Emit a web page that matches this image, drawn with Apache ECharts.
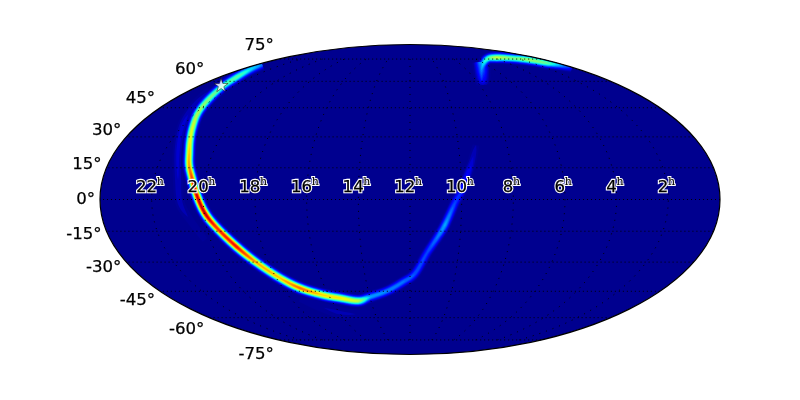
<!doctype html>
<html><head><meta charset="utf-8">
<style>html,body{margin:0;padding:0;background:#fff}#c{width:800px;height:400px}</style>
<script src="https://cdn.jsdelivr.net/npm/echarts@6/dist/echarts.min.js"></script>
</head><body><div id="c"></div>
<script>
// Sky tracks: right ascension (hours), declination (degrees), peak probability (0..1)
var mainRA  = [23.66,23.44,22.93,22.58,22.20,21.89,21.52,21.22,20.96,20.77,20.54,20.26,19.97,19.60,19.04,18.49,17.84,17.19,16.28,15.51,14.66,13.99,13.10,12.32,11.78,11.30,10.92,10.63,10.26,9.98,9.72,9.53,9.27];
var mainDec = [71.0,68.2,62.7,56.6,49.2,42.2,35.0,28.5,22.1,16.3,10.6,2.1,-6.4,-13.5,-22.6,-30.4,-38.0,-43.3,-47.0,-48.7,-50.2,-48.1,-44.9,-40.1,-35.7,-25.5,-18.2,-12.0,-1.6,4.5,12.5,17.8,26.0];
var mainP   = [.25,.35,.47,.47,.52,.57,.62,.66,.72,.76,.85,.95,.97,.88,.92,.75,.72,.82,.7,.68,.6,.3,.27,.25,.22,.2,.25,.3,.2,.17,.12,.08,.04];
var topRA   = [7.73,6.74,4.94,3.66,2.33,1.34,0.81,0.32,0.15];
var topDec  = [59.6,68.6,75.0,76.1,75.6,74.3,72.1,70.6,68.6];
var topP    = [.12,.3,.45,.6,.5,.55,.48,.3,.12];
var blobRA  = [6.05,7.10,7.81];
var blobDec = [72.7,65.9,57.8];
var blobP   = [.3,.22,.07];
var leftGhostRA  = [22.94,22.51,22.02,21.47,21.05,20.90,20.59,20.22];
var leftGhostDec = [54.8,46.5,35.9,23.5,9.2,-1.65,-9.65,-19.2];
var leftGhostP   = [.04,.06,.08,.08,.07,.06,.04,.03];
var lowGhostRA   = [17.51,16.11,14.32];
var lowGhostDec  = [-48.7,-56.6,-58.4];
var lowGhostP    = [.03,.05,.04];
var starRA = 22.85, starDec = 57.8;
var raTicks  = [22,20,18,16,14,12,10,8,6,4,2];
var decTicks = [75,60,45,30,15,0,-15,-30,-45,-60,-75];

// Mollweide projection onto a plane spanning -1..1 on both axes
function theta(dec){
  var phi=dec*Math.PI/180,t=phi;
  if(Math.abs(dec)>=90) return phi;
  for(var i=0;i<40;i++){t-=(2*t+Math.sin(2*t)-Math.PI*Math.sin(phi))/(2+2*Math.cos(2*t));}
  return t;
}
function proj(ra,dec){var t=theta(dec);return [(12-ra)/12*Math.cos(t),Math.sin(t)];}

function jet(v){
  function c(a){return Math.round(255*Math.max(0,Math.min(1,a)));}
  var r=v<.35?0:v<.66?(v-.35)/.31:v<.89?1:1-(v-.89)/.11*.5;
  var g=v<.125?0:v<.375?(v-.125)/.25:v<.64?1:v<.91?1-(v-.64)/.27:0;
  var b=v<.11?.5+v/.11*.5:v<.34?1:v<.65?1-(v-.34)/.31:0;
  return 'rgb('+c(r)+','+c(g)+','+c(b)+')';
}
var tracks=[
  {ra:leftGhostRA,dec:leftGhostDec,p:leftGhostP,s:3.2},
  {ra:lowGhostRA,dec:lowGhostDec,p:lowGhostP,s:4},
  {ra:blobRA,dec:blobDec,p:blobP,s:4},
  {ra:mainRA,dec:mainDec,p:mainP,s:2.7},
  {ra:topRA,dec:topDec,p:topP,s:2.6}
];
var items=[];
for(var l=.02;l<1;l+=.025){for(var t=0;t<tracks.length;t++){if(Math.max.apply(null,tracks[t].p)>l) items.push([t,+l.toFixed(3)]);}}

function cr(a,b,c,d,u){return .5*((2*b)+(c-a)*u+(2*a-5*b+4*c-d)*u*u+(3*b-a-3*c+d)*u*u*u);}
function bandItem(params,api){
  var tr=tracks[api.value(0)],lev=api.value(1),pts=[];
  var n=tr.ra.length,P=[];
  for(var i=0;i<n;i++){var q=api.coord(proj(tr.ra[i],tr.dec[i]));P.push([q[0],q[1],tr.p[i]]);}
  for(i=0;i<n-1;i++){
    var a=P[Math.max(0,i-1)],b=P[i],c=P[i+1],d=P[Math.min(n-1,i+2)];
    for(var k=0;k<6;k++){var u=k/6;pts.push([cr(a[0],b[0],c[0],d[0],u),cr(a[1],b[1],c[1],d[1],u),b[2]+(c[2]-b[2])*u]);}
  }
  pts.push(P[n-1]);
  var L=[],R=[];
  for(i=0;i<pts.length;i++){
    var p0=pts[Math.max(0,i-1)],p1=pts[Math.min(pts.length-1,i+1)];
    var dx=p1[0]-p0[0],dy=p1[1]-p0[1],m=Math.hypot(dx,dy)||1;
    var I=pts[i][2],w=I>lev?tr.s*Math.sqrt(2*Math.log(I/lev)):0;
    L.push([pts[i][0]-dy/m*w,pts[i][1]+dx/m*w]);
    R.unshift([pts[i][0]+dy/m*w,pts[i][1]-dx/m*w]);
  }
  var c0=api.coord([0,0]),c1=api.coord([1,1]);
  return {type:'polygon',shape:{points:L.concat(R)},style:{fill:jet(lev)},silent:true,
    clipPath:{type:'ellipse',shape:{cx:c0[0],cy:c0[1],rx:c1[0]-c0[0],ry:c0[1]-c1[1]}}};
}
function ellipse(fill,stroke){return function(params,api){
  var c0=api.coord([0,0]),c1=api.coord([1,1]);
  return {type:'ellipse',shape:{cx:c0[0],cy:c0[1],rx:c1[0]-c0[0],ry:c0[1]-c1[1]},style:{fill:fill,stroke:stroke,lineWidth:1.2},silent:true};
};}

var series=[];
series.push({type:'custom',coordinateSystem:'cartesian2d',renderItem:ellipse('#00008f',null),data:[[0,0]],z:1,silent:true,clip:false});
series.push({type:'custom',coordinateSystem:'cartesian2d',renderItem:bandItem,data:items,z:2,silent:true,clip:false});
// graticule
decTicks.forEach(function(d){
  var a=[];for(var h=0;h<=24;h+=0.5)a.push(proj(h,d));
  series.push({type:'line',data:a,showSymbol:false,symbol:'none',lineStyle:{color:'#000',width:1,type:[1,3]},z:3,silent:true,clip:false});
});
raTicks.forEach(function(h){
  var a=[];for(var d=-75;d<=75;d+=2.5)a.push(proj(h,d));
  series.push({type:'line',data:a,showSymbol:false,symbol:'none',lineStyle:{color:'#000',width:1,type:[1,6]},z:3,silent:true,clip:false});
});
series.push({type:'custom',coordinateSystem:'cartesian2d',renderItem:ellipse('none','#000'),data:[[0,0]],z:4,silent:true,clip:false});

// text elements: optional white halo drawn beneath a solid black fill
var SANS='16.6px "DejaVu Sans"', SERIF='11px "DejaVu Serif"';
function txt(s,x,y,font,align,stroke,width){
  return {type:'text',silent:true,style:{text:s,x:x,y:y,font:font,align:align,verticalAlign:'middle',fill:stroke||'#000',stroke:stroke||'#000',lineWidth:width}};
}
var digitW=10.56, hW=6.4;
series.push({type:'custom',coordinateSystem:'cartesian2d',z:5,silent:true,clip:false,
  data:raTicks.map(function(h){return [h];}),
  renderItem:function(params,api){
    var h=api.value(0),c=api.coord(proj(h,0)),s=String(h);
    var xd=c[0]-hW/2-2, yd=c[1]-12, xh=xd+s.length*digitW/2+hW/2, yh=c[1]-17;
    return {type:'group',children:[
      txt(s,xd,yd,SANS,'center','#fff',2.4),
      txt('h',xh,yh,SERIF,'center','#fff',2),
      txt(s,xd,yd,SANS,'center',null,.25),
      txt('h',xh,yh,SERIF,'center',null,.1)
    ]};
  }});
series.push({type:'custom',coordinateSystem:'cartesian2d',z:5,silent:true,clip:false,
  data:decTicks.map(function(d){return [d];}),
  renderItem:function(params,api){
    var d=api.value(0),t=theta(d),c=api.coord([-Math.cos(t),Math.sin(t)]);
    return txt(d+'°',c[0]-5,c[1]+(d>60?-13:-d/5),SANS,'right',null,.25);
  }});
// star
series.push({type:'scatter',z:7,silent:true,clip:false,data:[proj(starRA,starDec)],
  symbol:'path://M50 0L61.8 35.1L98 35.1L68.6 56.7L79.4 91L50 70L20.6 91L31.4 56.7L2 35.1L38.2 35.1Z',
  symbolSize:14,symbolKeepAspect:true,itemStyle:{color:'#fff',borderColor:'#000',borderWidth:.6}});

var chart=echarts.init(document.getElementById('c'),null,{renderer:'canvas'});
chart.setOption({animation:false,backgroundColor:'#fff',
  grid:{left:100,width:620,top:44.5,height:310},
  xAxis:{type:'value',min:-1,max:1,show:false},
  yAxis:{type:'value',min:-1,max:1,show:false},
  series:series});
</script></body></html>
